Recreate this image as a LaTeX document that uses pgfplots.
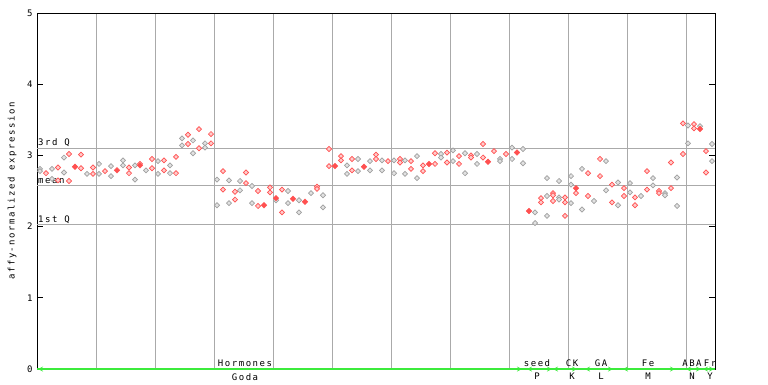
\documentclass[border=0pt]{standalone}
\usepackage{fontspec}
\newfontfamily\pix[LetterSpace=17]{DejaVu Sans Mono}
\usepackage{pgfplots}
\pgfplotsset{compat=1.18}
\usepackage{pgfplotstable}
\definecolor{ptred}{RGB}{255,80,80}
\definecolor{ptgray}{RGB}{160,160,160}
\definecolor{gridc}{RGB}{170,170,170}
\definecolor{grn}{RGB}{60,235,60}

\pgfplotstableread{
x y
40 2.81
40 2.78
52 2.81
52 2.67
64 2.97
64 2.76
87 2.74
99 2.88
99 2.74
111 2.85
111 2.71
123 2.93
123 2.86
135 2.86
135 2.66
146 2.79
158 2.92
158 2.74
170 2.86
170 2.75
182 3.14
182 3.24
193 3.21
193 3.03
205 3.17
205 3.11
217 2.66
217 2.30
229 2.65
229 2.33
240 2.64
240 2.51
252 2.57
252 2.33
276 2.37
288 2.50
288 2.33
299 2.37
299 2.20
311 2.47
323 2.44
323 2.27
347 2.86
347 2.74
358 2.95
358 2.78
370 2.92
370 2.79
382 2.93
382 2.79
394 2.93
394 2.75
405 2.93
405 2.74
417 2.99
417 2.68
441 3.02
441 2.97
453 3.07
453 2.92
465 3.03
465 2.75
477 3.02
477 2.88
500 2.95
500 2.92
512 3.11
512 2.95
523 3.09
523 2.89
535 2.20
535 2.05
547 2.68
547 2.43
547 2.15
559 2.64
559 2.41
559 2.38
571 2.71
571 2.59
571 2.33
582 2.81
582 2.24
594 2.36
606 2.92
606 2.51
618 2.62
618 2.30
630 2.61
630 2.48
641 2.43
653 2.68
653 2.58
665 2.47
665 2.44
677 2.69
677 2.29
688 3.42
688 3.17
700 3.41
712 3.16
712 2.92
}\graypts

\pgfplotstableread{
x y
46 2.75
58 2.83
58 2.65
69 3.02
69 2.64
81 3.01
81 2.82
93 2.83
93 2.74
105 2.78
129 2.83
129 2.75
140 2.88
152 2.95
152 2.82
164 2.93
164 2.79
176 2.98
176 2.75
188 3.16
188 3.29
199 3.37
199 3.10
211 3.30
211 3.17
223 2.78
223 2.52
235 2.49
235 2.38
246 2.76
246 2.61
258 2.50
258 2.29
270 2.55
270 2.48
282 2.52
282 2.20
317 2.56
317 2.53
329 3.09
329 2.85
341 2.99
341 2.93
352 2.95
352 2.79
376 3.01
376 2.95
388 2.92
400 2.95
400 2.90
411 2.92
411 2.81
423 2.86
423 2.78
435 3.03
435 2.88
447 3.04
447 2.90
459 2.99
459 2.88
471 3.00
471 2.97
483 3.16
483 2.97
494 3.06
506 3.02
541 2.40
541 2.34
553 2.47
553 2.44
553 2.36
565 2.41
565 2.34
565 2.15
576 2.47
588 2.75
588 2.43
600 2.95
600 2.71
612 2.59
612 2.34
624 2.54
624 2.43
635 2.41
635 2.30
647 2.78
647 2.52
659 2.50
659 2.47
671 2.90
671 2.54
683 3.45
683 3.02
694 3.44
694 3.38
706 3.06
706 2.76
}\redpts

\pgfplotstableread{
x y
75 2.84
117 2.79
140 2.86
264 2.30
276 2.40
293 2.39
305 2.35
335 2.85
364 2.84
429 2.88
488 2.91
517 3.04
529 2.22
576 2.54
700 3.37
}\meanpts

\tikzset{lab/.style={font=\pix\fontsize{9}{9}\selectfont},
  toplab/.style={lab, anchor=south, inner sep=0pt, yshift=2.5pt},
  botlab/.style={lab, anchor=north, inner sep=0pt, yshift=-4pt},
  garr/.style={grn, line width=1.2pt, <->, >=stealth}}

\begin{document}
\begin{tikzpicture}[x=1pt,y=1pt]
\useasboundingbox (0,0) rectangle (768,384);
\begin{axis}[
  at={(37pt,15pt)}, anchor=south west,
  scale only axis, width=678pt, height=356pt,
  xmin=37, xmax=715, ymin=0, ymax=5,
  clip=false,
  axis line style={black, line width=1pt},
  xtick={96.3,155.4,214.4,273.5,332.5,391.6,450.6,509.7,568.7,627.8,686.8},
  xticklabels={},
  xmajorgrids,
  major x grid style={gridc, line width=1pt},
  xtick style={draw=none},
  ytick={0,1,2,3,4,5},
  ytick pos=both,
  yticklabel pos=left,
  tick align=inside,
  major tick length=6pt,
  ytick style={black, line width=1pt},
  yticklabel style={font=\pix\fontsize{9}{9}\selectfont, xshift=-1pt},
  /pgf/number format/assume math mode=true,
  extra y ticks={2.03,2.58,3.10},
  extra y tick labels={},
  extra y tick style={grid=major, major grid style={gridc, line width=1pt}, major tick length=0pt},
]
\addplot[only marks, mark=square*, mark size=1.8pt, mark options={rotate=45, draw=ptgray, fill=ptgray!30, line width=0.7pt}] table[x=x,y=y] {\graypts};
\addplot[only marks, mark=square*, mark size=1.8pt, mark options={rotate=45, draw=ptred, fill=ptred!30, line width=0.7pt}] table[x=x,y=y] {\redpts};
\addplot[only marks, mark=square*, mark size=2pt, mark options={rotate=45, draw=ptred, fill=ptred}] table[x=x,y=y] {\meanpts};

\node[lab, anchor=south west, inner sep=1pt] at (axis cs:37,3.10) {3rd Q};
\node[lab, anchor=south west, inner sep=1pt] at (axis cs:37,2.58) {mean};
\node[lab, anchor=south west, inner sep=1pt] at (axis cs:37,2.03) {1st Q};

\draw[grn, line width=1.6pt] (axis cs:37,0) -- (axis cs:715,0);
\draw[garr] (axis cs:38,0) -- (axis cs:522,0);
\draw[garr] (axis cs:527,0) -- (axis cs:552,0);
\draw[garr] (axis cs:553,0) -- (axis cs:577,0);
\draw[garr] (axis cs:585,0) -- (axis cs:613,0);
\draw[garr] (axis cs:623,0) -- (axis cs:675,0);
\draw[garr] (axis cs:686,0) -- (axis cs:701,0);
\draw[garr] (axis cs:703,0) -- (axis cs:714,0);

\node[toplab] at (axis cs:245,0) {Hormones};
\node[botlab] at (axis cs:245,0) {Goda};
\node[toplab] at (axis cs:537,0) {seed};
\node[botlab] at (axis cs:537,0) {P};
\node[toplab] at (axis cs:572,0) {CK};
\node[botlab] at (axis cs:572,0) {K};
\node[toplab] at (axis cs:601,0) {GA};
\node[botlab] at (axis cs:601,0) {L};
\node[toplab] at (axis cs:648,0) {Fe};
\node[botlab] at (axis cs:648,0) {M};
\node[toplab] at (axis cs:692,0) {ABA};
\node[botlab] at (axis cs:692,0) {N};
\node[toplab] at (axis cs:710,0) {Fr};
\node[botlab] at (axis cs:710,0) {Y};
\end{axis}
\node[lab, rotate=90] at (12,193) {affy-normalized expression};
\end{tikzpicture}
\end{document}
